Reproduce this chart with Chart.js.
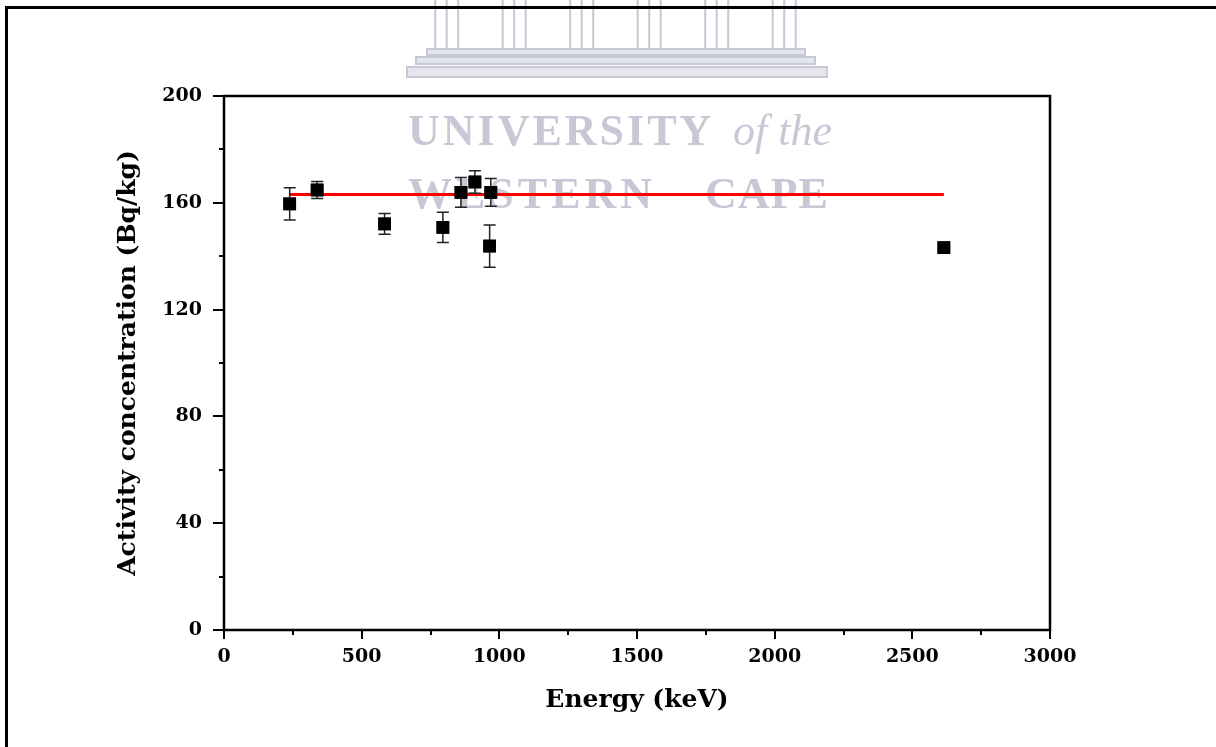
<!DOCTYPE html>
<html>
<head>
<meta charset="utf-8">
<script src="https://cdn.jsdelivr.net/npm/chart.js@4.4.0/dist/chart.umd.min.js"></script>
<style>
  body { margin: 0; background: #fff; }
  #wrap { width: 1216px; height: 747px; }
</style>
</head>
<body>
<div id="wrap"><canvas id="chartCanvas"></canvas></div>
<script>
// gamma lines (keV) and measured activity concentration (Bq/kg)
const energies = [238.6, 338.3, 583.2, 794.9, 860.6, 911.2, 964.8, 969.0, 2614.5];
const activity = [159.6, 164.8, 152.1, 150.8, 163.9, 167.8, 143.8, 163.9, 143.2];
const activityErr = [6.0, 3.2, 3.9, 5.7, 5.6, 4.2, 7.9, 5.2, 0];

// weighted mean line
const meanX = [238.6, 2614.5];
const meanY = [163.1, 163.1];

const xTicks = [0, 500, 1000, 1500, 2000, 2500, 3000];
const yTicks = [0, 40, 80, 120, 160, 200];

const axisFont = { family: '"DejaVu Serif"', size: 19, weight: 'bold' };
const titleFont = { family: '"DejaVu Serif"', size: 25, weight: 'bold' };

// faint university watermark behind the plot
const watermark = {
  id: 'watermark',
  beforeDraw(chart) {
    const ctx = chart.ctx;
    ctx.save();
    ctx.fillStyle = '#fff';
    ctx.fillRect(0, 0, chart.width, chart.height);

    const grey = '#c6c8d5';
    ctx.strokeStyle = grey;
    ctx.lineWidth = 2;
    // columns
    for (let i = 0; i < 6; i++) {
      const cx = 446.7 + i * 67.5;
      for (const d of [-11.5, 0, 11.5]) {
        ctx.beginPath();
        ctx.moveTo(cx + d, 0);
        ctx.lineTo(cx + d, 49);
        ctx.stroke();
      }
    }
    // steps
    ctx.fillStyle = '#e4e5ed';
    const steps = [[427, 49, 378, 6], [416, 57, 399, 7], [407, 67, 420, 10]];
    for (const s of steps) {
      ctx.fillRect(s[0], s[1], s[2], s[3]);
      ctx.strokeRect(s[0], s[1], s[2], s[3]);
    }

    ctx.fillStyle = grey;
    ctx.textBaseline = 'alphabetic';
    ctx.textAlign = 'left';
    ctx.font = 'bold 44px "Liberation Serif"';
    ctx.letterSpacing = '3px';
    ctx.fillText('UNIVERSITY', 408, 145);
    ctx.letterSpacing = '0px';
    ctx.font = 'italic 44px "Liberation Serif"';
    ctx.fillText('of the', 733, 145);
    ctx.font = 'bold 44px "Liberation Serif"';
    ctx.letterSpacing = '4px';
    ctx.fillText('WESTERN', 408, 208);
    ctx.letterSpacing = '1px';
    ctx.fillText('CAPE', 705, 208);
    ctx.letterSpacing = '0px';
    ctx.restore();
  }
};

// vertical error bars from the arrays above
const errorBars = {
  id: 'errorBars',
  afterDatasetsDraw(chart) {
    const ctx = chart.ctx;
    const xs = chart.scales.x, ys = chart.scales.y;
    ctx.save();
    ctx.strokeStyle = '#222';
    ctx.lineWidth = 1.5;
    energies.forEach((e, i) => {
      if (!activityErr[i]) return;
      const px = xs.getPixelForValue(e);
      const top = ys.getPixelForValue(activity[i] + activityErr[i]);
      const bot = ys.getPixelForValue(activity[i] - activityErr[i]);
      ctx.beginPath();
      ctx.moveTo(px, top); ctx.lineTo(px, bot);
      ctx.moveTo(px - 6, top); ctx.lineTo(px + 6, top);
      ctx.moveTo(px - 6, bot); ctx.lineTo(px + 6, bot);
      ctx.stroke();
    });
    // redraw the squares above the bars
    const meta = chart.getDatasetMeta(0);
    meta.data.forEach(pt => pt.draw(ctx, chart.chartArea));
    ctx.restore();
  }
};

// frame, axis box and tick marks
const frame = {
  id: 'frame',
  afterDraw(chart) {
    const ctx = chart.ctx;
    const a = chart.chartArea;
    const xs = chart.scales.x, ys = chart.scales.y;
    ctx.save();
    ctx.strokeStyle = '#000';
    ctx.lineWidth = 2.5;
    ctx.strokeRect(a.left, a.top, a.right - a.left, a.bottom - a.top);

    ctx.lineWidth = 2;
    ctx.beginPath();
    for (let v = 0; v <= 3000; v += 250) {
      const px = Math.round(xs.getPixelForValue(v));
      const len = v % 500 === 0 ? 9 : 5;
      ctx.moveTo(px, a.bottom); ctx.lineTo(px, a.bottom + len);
    }
    for (let v = 0; v <= 200; v += 20) {
      const py = Math.round(ys.getPixelForValue(v));
      const len = v % 40 === 0 ? 11 : 5;
      ctx.moveTo(a.left, py); ctx.lineTo(a.left - len, py);
    }
    ctx.stroke();

    // outer page frame (left and top edges)
    ctx.lineWidth = 3;
    ctx.beginPath();
    ctx.moveTo(6.5, chart.height);
    ctx.lineTo(6.5, 7.5);
    ctx.lineTo(chart.width, 7.5);
    ctx.stroke();
    ctx.restore();
  }
};

const ctx = document.getElementById('chartCanvas').getContext('2d');
new Chart(ctx, {
  type: 'scatter',
  data: {
    datasets: [{
      label: 'Activity',
      data: energies.map((e, i) => ({ x: e, y: activity[i] })),
      pointStyle: 'rect',
      pointRadius: 9,
      pointHoverRadius: 9,
      backgroundColor: '#000',
      borderWidth: 0,
      order: 1
    }, {
      type: 'line',
      label: 'Mean',
      data: meanX.map((e, i) => ({ x: e, y: meanY[i] })),
      borderColor: '#ff0000',
      borderWidth: 3,
      pointRadius: 0,
      fill: false,
      order: 2
    }]
  },
  options: {
    responsive: true,
    maintainAspectRatio: false,
    animation: false,
    layout: { padding: { top: 96, right: 166, left: 0, bottom: 0 } },
    plugins: { legend: { display: false }, tooltip: { enabled: false } },
    scales: {
      x: {
        type: 'linear', min: 0, max: 3000,
        afterFit: s => { s.height = 117; },
        afterBuildTicks: s => { s.ticks = xTicks.map(v => ({ value: v })); },
        grid: { display: false, drawTicks: false },
        border: { display: false },
        ticks: { color: '#000', font: axisFont, padding: 16, maxRotation: 0, callback: v => String(v) },
        title: { display: true, text: 'Energy (keV)', color: '#000', font: titleFont, padding: { top: 0, bottom: 32 } }
      },
      y: {
        min: 0, max: 200,
        afterFit: s => { s.width = 224; },
        afterBuildTicks: s => { s.ticks = yTicks.map(v => ({ value: v })); },
        grid: { display: false, drawTicks: false },
        border: { display: false },
        ticks: { color: '#000', font: axisFont, padding: 22, callback: v => String(v) },
        title: { display: true, text: 'Activity concentration (Bq/kg)', color: '#000', font: titleFont, padding: { top: 113, bottom: 0 } }
      }
    }
  },
  plugins: [watermark, errorBars, frame]
});
</script>
</body>
</html>
